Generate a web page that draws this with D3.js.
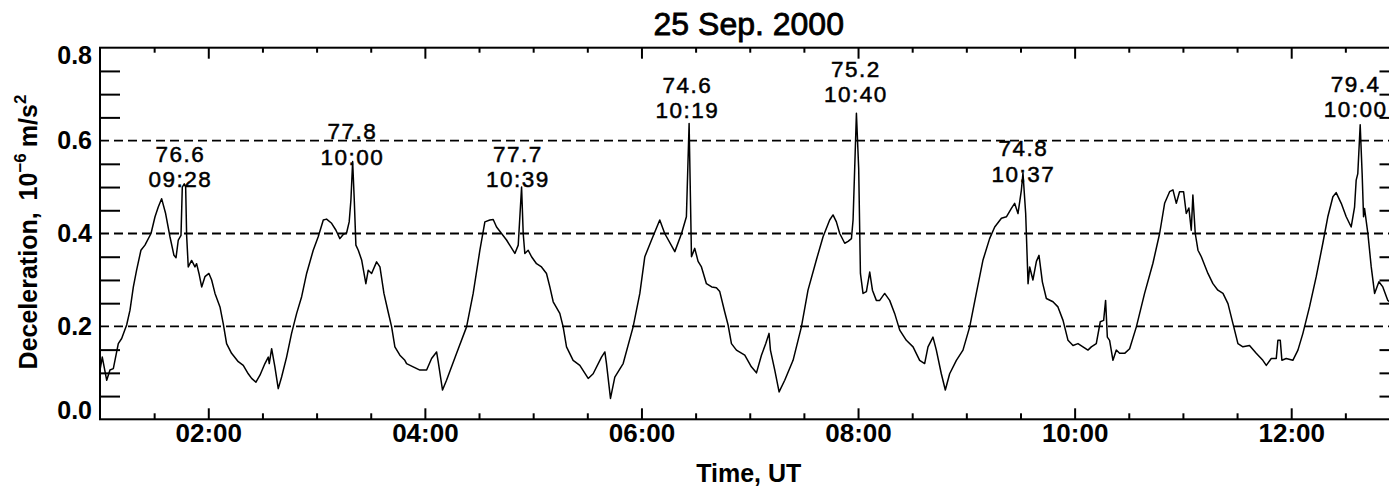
<!DOCTYPE html>
<html>
<head>
<meta charset="utf-8">
<script src="https://cdn.jsdelivr.net/npm/d3@7"></script>
<style>
  html, body { margin: 0; padding: 0; background: #fff; }
  svg { display: block; }
  text { font-family: "Liberation Sans", Arial, Helvetica, sans-serif; fill: #000; }
</style>
</head>
<body>
<svg id="chart" width="1389" height="489"></svg>
<script>
// ---------------- data ----------------
const chartTitle = "25 Sep. 2000";
const xTitle = "Time, UT";

// samples: [time in hours UT, deceleration in 1e-6 m/s^2]
const samples = [
  [1.000,0.106],[1.021,0.134],[1.062,0.084],[1.092,0.106],[1.123,0.109],[1.169,0.163],[1.200,0.174],[1.246,0.203],
  [1.277,0.235],[1.308,0.285],[1.338,0.321],[1.378,0.364],[1.415,0.375],[1.471,0.400],[1.508,0.436],[1.538,0.457],
  [1.569,0.475],[1.606,0.443],[1.646,0.393],[1.683,0.353],[1.702,0.348],[1.723,0.386],[1.748,0.396],[1.760,0.500],
  [1.778,0.507],[1.791,0.500],[1.800,0.396],[1.815,0.328],[1.846,0.342],[1.877,0.328],[1.892,0.335],[1.914,0.314],
  [1.939,0.285],[1.969,0.307],[2.006,0.314],[2.031,0.300],[2.062,0.271],[2.108,0.242],[2.138,0.206],[2.169,0.163],
  [2.215,0.142],[2.277,0.124],[2.323,0.116],[2.369,0.098],[2.400,0.088],[2.440,0.080],[2.477,0.095],[2.523,0.120],
  [2.554,0.134],[2.563,0.120],[2.585,0.152],[2.615,0.113],[2.646,0.066],[2.677,0.091],[2.723,0.134],[2.769,0.185],
  [2.816,0.228],[2.862,0.264],[2.908,0.314],[2.969,0.364],[3.015,0.393],[3.062,0.429],[3.092,0.431],[3.139,0.422],
  [3.179,0.407],[3.215,0.389],[3.246,0.398],[3.277,0.401],[3.301,0.425],[3.317,0.472],[3.333,0.555],[3.348,0.472],
  [3.363,0.375],[3.385,0.364],[3.416,0.343],[3.455,0.292],[3.477,0.321],[3.508,0.314],[3.554,0.339],[3.585,0.328],
  [3.622,0.271],[3.661,0.231],[3.693,0.199],[3.723,0.156],[3.769,0.138],[3.815,0.127],[3.831,0.120],[3.892,0.113],
  [3.954,0.106],[4.016,0.106],[4.062,0.131],[4.108,0.145],[4.123,0.124],[4.163,0.063],[4.200,0.084],[4.293,0.142],
  [4.385,0.199],[4.446,0.271],[4.508,0.364],[4.554,0.425],[4.600,0.429],[4.631,0.430],[4.662,0.414],[4.754,0.386],
  [4.831,0.357],[4.862,0.375],[4.893,0.500],[4.908,0.400],[4.923,0.357],[4.954,0.364],[4.985,0.350],[5.031,0.335],
  [5.077,0.328],[5.123,0.314],[5.154,0.285],[5.185,0.253],[5.246,0.228],[5.277,0.199],[5.308,0.156],[5.369,0.127],
  [5.431,0.116],[5.508,0.088],[5.554,0.098],[5.631,0.134],[5.662,0.145],[5.677,0.120],[5.714,0.045],[5.754,0.091],
  [5.831,0.120],[5.923,0.199],[5.985,0.271],[6.031,0.350],[6.093,0.386],[6.169,0.429],[6.215,0.400],[6.308,0.361],
  [6.370,0.400],[6.415,0.436],[6.440,0.637],[6.462,0.350],[6.492,0.368],[6.523,0.340],[6.554,0.328],[6.600,0.292],
  [6.649,0.285],[6.692,0.283],[6.723,0.275],[6.769,0.231],[6.800,0.203],[6.831,0.163],[6.877,0.149],[6.954,0.138],
  [7.015,0.113],[7.062,0.100],[7.108,0.138],[7.148,0.163],[7.178,0.185],[7.191,0.149],[7.231,0.106],[7.271,0.059],
  [7.323,0.084],[7.400,0.127],[7.477,0.199],[7.538,0.278],[7.615,0.343],[7.677,0.393],[7.738,0.429],[7.769,0.440],
  [7.800,0.425],[7.831,0.400],[7.877,0.379],[7.908,0.383],[7.939,0.389],[7.954,0.429],[7.969,0.540],[7.985,0.659],
  [8.006,0.540],[8.022,0.314],[8.046,0.271],[8.077,0.275],[8.108,0.317],[8.133,0.278],[8.169,0.256],[8.200,0.256],
  [8.246,0.271],[8.292,0.256],[8.338,0.228],[8.385,0.192],[8.446,0.170],[8.508,0.156],[8.569,0.127],[8.615,0.120],
  [8.646,0.156],[8.692,0.177],[8.723,0.149],[8.769,0.098],[8.806,0.063],[8.846,0.098],[8.908,0.127],[8.969,0.149],
  [9.031,0.199],[9.092,0.271],[9.154,0.343],[9.215,0.389],[9.262,0.414],[9.324,0.433],[9.370,0.436],[9.416,0.454],
  [9.446,0.465],[9.477,0.443],[9.508,0.493],[9.523,0.530],[9.548,0.443],[9.570,0.292],[9.585,0.328],[9.615,0.300],
  [9.647,0.340],[9.671,0.353],[9.702,0.296],[9.739,0.260],[9.800,0.253],[9.846,0.242],[9.893,0.213],[9.939,0.170],
  [9.985,0.159],[10.031,0.163],[10.077,0.156],[10.123,0.149],[10.154,0.156],[10.200,0.163],[10.237,0.210],[10.268,0.213],
  [10.286,0.256],[10.302,0.177],[10.323,0.170],[10.354,0.127],[10.385,0.149],[10.415,0.142],[10.462,0.142],[10.508,0.152],
  [10.570,0.199],[10.646,0.271],[10.723,0.336],[10.785,0.400],[10.831,0.465],[10.877,0.490],[10.908,0.494],[10.939,0.465],
  [10.969,0.490],[11.006,0.490],[11.031,0.443],[11.055,0.455],[11.077,0.407],[11.092,0.483],[11.114,0.400],[11.139,0.364],
  [11.170,0.350],[11.231,0.314],[11.277,0.292],[11.323,0.278],[11.370,0.271],[11.416,0.249],[11.462,0.206],[11.508,0.163],
  [11.554,0.156],[11.615,0.159],[11.677,0.142],[11.738,0.127],[11.770,0.116],[11.816,0.131],[11.862,0.131],[11.877,0.170],
  [11.899,0.170],[11.914,0.127],[11.954,0.131],[12.015,0.127],[12.062,0.149],[12.108,0.185],[12.169,0.242],[12.231,0.307],
  [12.292,0.379],[12.338,0.436],[12.385,0.479],[12.415,0.488],[12.462,0.465],[12.508,0.436],[12.554,0.414],[12.585,0.457],
  [12.600,0.515],[12.615,0.529],[12.637,0.634],[12.655,0.529],[12.668,0.436],[12.677,0.454],[12.708,0.400],[12.739,0.328],
  [12.770,0.271],[12.810,0.296],[12.846,0.285],[12.892,0.256],[12.950,0.245]
];

// peak annotations
const annotValue = ["76.6", "77.8", "77.7", "74.6", "75.2", "74.8", "79.4"];
const annotTime  = ["09:28", "10:00", "10:39", "10:19", "10:40", "10:37", "10:00"];
const annotHour  = [1.743, 3.331, 4.859, 6.424, 7.980, 9.527, 12.595];
const annotLevel = [0.503, 0.551, 0.503, 0.651, 0.686, 0.515, 0.653];

// axes
const xDomain = [1, 13];
const yDomain = [0, 0.8];
const xMajorHours = [2, 4, 6, 8, 10, 12];
const xMajorLabels = ["02:00", "04:00", "06:00", "08:00", "10:00", "12:00"];
const xMinorHours = [1.5, 2.5, 3, 3.5, 4.5, 5, 5.5, 6.5, 7, 7.5, 8.5, 9, 9.5, 10.5, 11, 11.5, 12.5];
const yMajorTicks = [0.0, 0.2, 0.4, 0.6, 0.8];
const yMajorLabels = ["0.0", "0.2", "0.4", "0.6", "0.8"];
const yGridTicks = [0.2, 0.4, 0.6];
const yMinorTicks = [0.05, 0.1, 0.15, 0.25, 0.3, 0.35, 0.45, 0.5, 0.55, 0.65, 0.7, 0.75];

// ---------------- drawing ----------------
const svg = d3.select("#chart");
svg.append("rect").attr("width", 1389).attr("height", 489).attr("fill", "#fff");

const L = 100, R = 1399.5, T = 47.7, B = 419.3;
const x = d3.scaleLinear().domain(xDomain).range([L, R]);
const y = d3.scaleLinear().domain(yDomain).range([B, T]);

svg.append("defs").append("clipPath").attr("id", "plotclip")
  .append("rect").attr("x", L).attr("y", T).attr("width", R - L).attr("height", B - T);

// dashed grid (major y ticks)
svg.append("g").selectAll("line").data(yGridTicks).join("line")
  .attr("x1", L).attr("x2", R)
  .attr("y1", d => y(d)).attr("y2", d => y(d))
  .attr("stroke", "#000").attr("stroke-width", 1.8)
  .attr("stroke-dasharray", "9,5");

function styleAxis(g) {
  g.select(".domain").remove();
  g.selectAll(".tick line").attr("stroke", "#000").attr("stroke-width", 2);
}

// minor y ticks left & right
svg.append("g").attr("transform", `translate(${L},0)`)
  .call(d3.axisLeft(y).tickValues(yMinorTicks).tickSize(-20).tickFormat(""))
  .call(styleAxis);
svg.append("g").attr("transform", `translate(${R},0)`)
  .call(d3.axisRight(y).tickValues(yMinorTicks).tickSize(-20).tickFormat(""))
  .call(styleAxis);

// y labels
const yAx = svg.append("g").attr("transform", `translate(${L},0)`)
  .call(d3.axisLeft(y).tickValues(yMajorTicks).tickSize(0)
        .tickFormat(d => yMajorLabels[yMajorTicks.indexOf(d)]))
  .call(styleAxis);
yAx.selectAll(".tick line").remove();
yAx.selectAll(".tick text")
  .attr("x", -8).attr("dy", null)
  .attr("y", d => {
    const base = 8;
    const lo = T + 15.6 - y(d);
    const hi = B - 1 - y(d);
    return Math.min(Math.max(base, lo), hi);
  })
  .attr("text-anchor", "end")
  .style("font-size", "25px").style("font-weight", "bold")
  .style("font-family", '"Liberation Sans", Arial, sans-serif');

// x axes bottom
const xb = svg.append("g").attr("transform", `translate(0,${B})`)
  .call(d3.axisBottom(x).tickValues(xMajorHours).tickSize(-11)
        .tickFormat(d => xMajorLabels[xMajorHours.indexOf(d)]))
  .call(styleAxis);
xb.selectAll(".tick text").attr("y", 22.4).attr("dy", null)
  .style("font-size", "26px").style("font-weight", "bold")
  .style("font-family", '"Liberation Sans", Arial, sans-serif');
svg.append("g").attr("transform", `translate(0,${B})`)
  .call(d3.axisBottom(x).tickValues(xMinorHours).tickSize(-6).tickFormat(""))
  .call(styleAxis);

// x axes top
svg.append("g").attr("transform", `translate(0,${T})`)
  .call(d3.axisTop(x).tickValues(xMajorHours).tickSize(-11).tickFormat(""))
  .call(styleAxis);
svg.append("g").attr("transform", `translate(0,${T})`)
  .call(d3.axisTop(x).tickValues(xMinorHours).tickSize(-5).tickFormat(""))
  .call(styleAxis);

// frame
svg.append("rect").attr("x", L).attr("y", T).attr("width", R - L).attr("height", B - T)
  .attr("fill", "none").attr("stroke", "#000").attr("stroke-width", 2);

// data line
const line = d3.line().x(d => x(d[0])).y(d => y(d[1]));
svg.append("path").datum(samples)
  .attr("clip-path", "url(#plotclip)")
  .attr("d", line)
  .attr("fill", "none").attr("stroke", "#000")
  .attr("stroke-width", 1.5).attr("stroke-linejoin", "round");

// annotations (value line above, time line below)
const pitch = 25.5;
const ann = svg.append("g").attr("text-anchor", "middle")
  .style("font-size", "22.5px").style("letter-spacing", "1.5px")
  .style("stroke", "#000").style("stroke-width", "0.5px");
annotValue.forEach((v, i) => {
  const ax = x(annotHour[i]), ay = y(annotLevel[i]) + 1.5;
  ann.append("text").attr("x", ax).attr("y", ay - pitch).text(v);
  ann.append("text").attr("x", ax).attr("y", ay).text(annotTime[i]);
});

// titles
svg.append("text").attr("x", (L + R) / 2 - 1).attr("y", 35)
  .attr("text-anchor", "middle").style("font-size", "32px")
  .style("stroke", "#000").style("stroke-width", "0.8px")
  .text(chartTitle);

svg.append("text").attr("x", (L + R) / 2 - 1).attr("y", 481.5)
  .attr("text-anchor", "middle").style("font-size", "25px").style("font-weight", "bold")
  .text(xTitle);

const yl = svg.append("text").attr("transform", "translate(37,232) rotate(-90)")
  .attr("text-anchor", "middle").style("font-size", "25px").style("font-weight", "bold");
yl.append("tspan").text("Deceleration,");
yl.append("tspan").attr("dx", 12).text("10");
yl.append("tspan").attr("dy", -11).style("font-size", "17px").text("\u22126");
yl.append("tspan").attr("dy", 11).attr("dx", 6).text("m/s");
yl.append("tspan").attr("dy", -11).style("font-size", "17px").text("2");
</script>
</body>
</html>
